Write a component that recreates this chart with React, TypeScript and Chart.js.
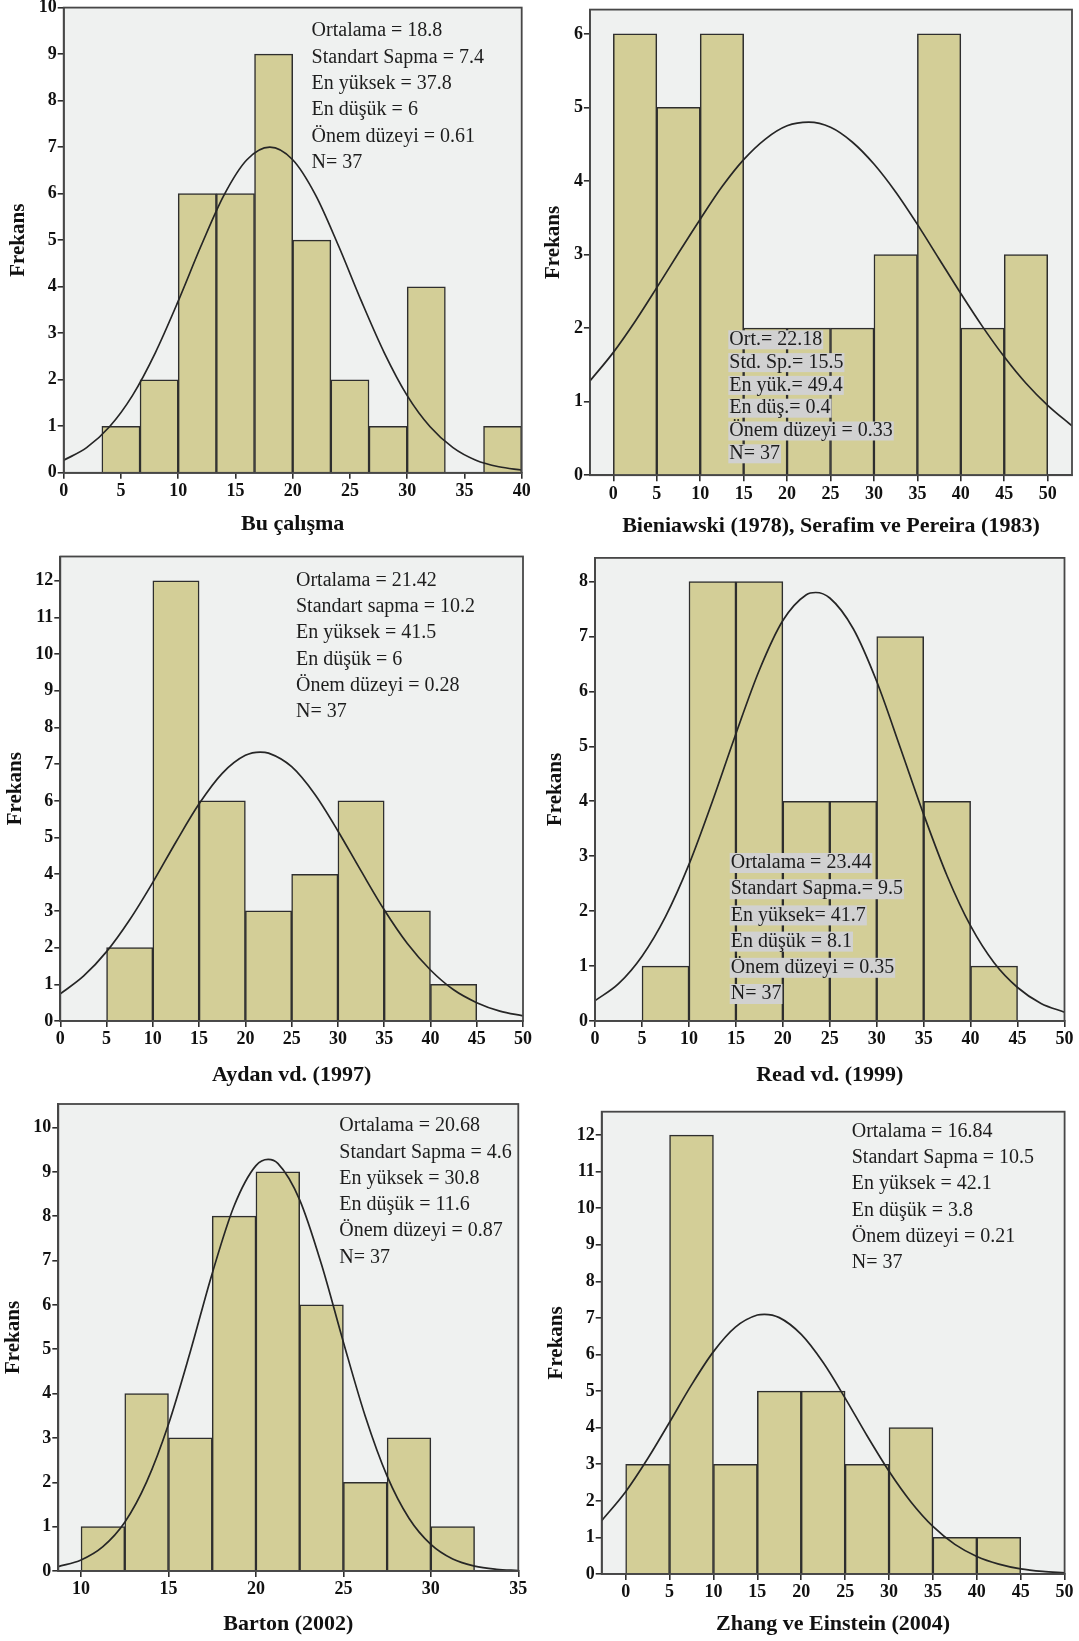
import React, { useEffect, useRef } from "react";
import { Chart, registerables } from "chart.js";

Chart.register(...registerables);

const SERIF = '"Liberation Serif", "Times New Roman", Times, serif';

// ---------- Panel 1: Bu çalışma ----------
const p1Title = "Bu çalışma";
const p1BinWidth = 3.3333;
const p1BinStarts = [3.3333, 6.6667, 10, 13.3333, 16.6667, 20, 23.3333, 26.6667, 30, 33.3333, 36.6667];
const p1Counts = [1, 2, 6, 6, 9, 5, 2, 1, 4, 0, 1];
const p1CurveX = [0, 2, 4, 6, 8, 10, 12, 14, 16, 18, 20, 22, 24, 26, 28, 30, 32, 34, 36, 38, 40];
const p1CurveY = [0.27, 0.54, 0.99, 1.66, 2.58, 3.69, 4.88, 5.97, 6.73, 7.0, 6.73, 5.97, 4.88, 3.69, 2.58, 1.66, 0.99, 0.54, 0.27, 0.13, 0.06];
const p1XTicks = [0, 5, 10, 15, 20, 25, 30, 35, 40];
const p1YTicks = [0, 1, 2, 3, 4, 5, 6, 7, 8, 9, 10];
const p1Stats = ["Ortalama = 18.8", "Standart Sapma = 7.4", "En yüksek = 37.8", "En düşük = 6", "Önem düzeyi = 0.61", "N= 37"];

// ---------- Panel 2: Bieniawski ----------
const p2Title = "Bieniawski (1978), Serafim ve Pereira (1983)";
const p2BinWidth = 5;
const p2BinStarts = [0, 5, 10, 15, 20, 25, 30, 35, 40, 45];
const p2Counts = [6, 5, 6, 2, 2, 2, 3, 6, 2, 3];
const p2CurveX = [-2.7, 0, 2.5, 5, 7.5, 10, 12.5, 15, 17.5, 20, 22.5, 25, 27.5, 30, 32.5, 35, 37.5, 40, 42.5, 45, 47.5, 50, 52.8];
const p2CurveY = [1.28, 1.67, 2.09, 2.55, 3.02, 3.48, 3.92, 4.29, 4.57, 4.75, 4.8, 4.73, 4.53, 4.23, 3.85, 3.41, 2.94, 2.47, 2.02, 1.61, 1.25, 0.95, 0.67];
const p2XTicks = [0, 5, 10, 15, 20, 25, 30, 35, 40, 45, 50];
const p2YTicks = [0, 1, 2, 3, 4, 5, 6];
const p2Stats = ["Ort.= 22.18", "Std. Sp.= 15.5", "En yük.= 49.4", "En düş.= 0.4", "Önem düzeyi = 0.33", "N= 37"];

// ---------- Panel 3: Aydan vd. (1997) ----------
const p3Title = "Aydan vd. (1997)";
const p3BinWidth = 5;
const p3BinStarts = [5, 10, 15, 20, 25, 30, 35, 40];
const p3Counts = [2, 12, 6, 3, 4, 6, 3, 1];
const p3CurveX = [0, 2.5, 5, 7.5, 10, 12.5, 15, 17.5, 20, 21.6, 22.5, 25, 27.5, 30, 32.5, 35, 37.5, 40, 42.5, 45, 47.5, 50];
const p3CurveY = [0.74, 1.22, 1.89, 2.76, 3.78, 4.88, 5.92, 6.75, 7.24, 7.33, 7.3, 6.93, 6.18, 5.18, 4.09, 3.03, 2.11, 1.39, 0.85, 0.5, 0.27, 0.14];
const p3XTicks = [0, 5, 10, 15, 20, 25, 30, 35, 40, 45, 50];
const p3YTicks = [0, 1, 2, 3, 4, 5, 6, 7, 8, 9, 10, 11, 12];
const p3Stats = ["Ortalama = 21.42", "Standart sapma = 10.2", "En yüksek = 41.5", "En düşük = 6", "Önem düzeyi = 0.28", "N= 37"];

// ---------- Panel 4: Read vd. (1999) ----------
const p4Title = "Read vd. (1999)";
const p4BinWidth = 5;
const p4BinStarts = [5, 10, 15, 20, 25, 30, 35, 40];
const p4Counts = [1, 8, 8, 4, 4, 7, 4, 1];
const p4CurveX = [0, 2.5, 5, 7.5, 10, 12.5, 15, 17.5, 20, 22.5, 23.5, 25, 27.5, 30, 32.5, 35, 37.5, 40, 42.5, 45, 47.5, 50];
const p4CurveY = [0.37, 0.68, 1.18, 1.9, 2.85, 4.0, 5.23, 6.39, 7.29, 7.76, 7.8, 7.7, 7.14, 6.18, 4.98, 3.76, 2.64, 1.73, 1.06, 0.61, 0.32, 0.16];
const p4XTicks = [0, 5, 10, 15, 20, 25, 30, 35, 40, 45, 50];
const p4YTicks = [0, 1, 2, 3, 4, 5, 6, 7, 8];
const p4Stats = ["Ortalama = 23.44", "Standart Sapma.= 9.5", "En yüksek= 41.7", "En düşük = 8.1", "Önem düzeyi = 0.35", "N= 37"];

// ---------- Panel 5: Barton (2002) ----------
const p5Title = "Barton (2002)";
const p5BinWidth = 2.5;
const p5BinStarts = [10, 12.5, 15, 17.5, 20, 22.5, 25, 27.5, 30];
const p5Counts = [1, 4, 3, 8, 9, 6, 2, 3, 1];
const p5CurveX = [8.7, 10, 11.25, 12.5, 13.75, 15, 16.25, 17.5, 18.75, 20, 20.7, 21.25, 22.5, 23.75, 25, 26.25, 27.5, 28.75, 30, 31.25, 32.5, 33.75, 35];
const p5CurveY = [0.1, 0.25, 0.55, 1.1, 2.01, 3.31, 4.95, 6.71, 8.23, 9.14, 9.28, 9.19, 8.37, 6.91, 5.16, 3.49, 2.14, 1.19, 0.6, 0.27, 0.11, 0.04, 0.01];
const p5XTicks = [10, 15, 20, 25, 30, 35];
const p5YTicks = [0, 1, 2, 3, 4, 5, 6, 7, 8, 9, 10];
const p5Stats = ["Ortalama = 20.68", "Standart Sapma = 4.6", "En yüksek = 30.8", "En düşük = 11.6", "Önem düzeyi = 0.87", "N= 37"];

// ---------- Panel 6: Zhang ve Einstein (2004) ----------
const p6Title = "Zhang ve Einstein (2004)";
const p6BinWidth = 5;
const p6BinStarts = [0, 5, 10, 15, 20, 25, 30, 35, 40];
const p6Counts = [3, 12, 3, 5, 5, 3, 4, 1, 1];
const p6CurveX = [-2.73, 0, 2.5, 5, 7.5, 10, 12.5, 15, 15.8, 17.5, 20, 22.5, 25, 27.5, 30, 32.5, 35, 37.5, 40, 42.5, 45, 47.5, 50];
const p6CurveY = [1.46, 2.25, 3.15, 4.15, 5.17, 6.08, 6.75, 7.08, 7.1, 7.01, 6.55, 5.78, 4.81, 3.78, 2.81, 1.97, 1.3, 0.81, 0.48, 0.27, 0.14, 0.07, 0.03];
const p6XTicks = [0, 5, 10, 15, 20, 25, 30, 35, 40, 45, 50];
const p6YTicks = [0, 1, 2, 3, 4, 5, 6, 7, 8, 9, 10, 11, 12];
const p6Stats = ["Ortalama = 16.84", "Standart Sapma = 10.5", "En yüksek = 42.1", "En düşük = 3.8", "Önem düzeyi = 0.21", "N= 37"];

const yAxisTitle = "Frekans";

type PanelSpec = {
  title: string;
  binWidth: number;
  binStarts: number[];
  counts: number[];
  curveX: number[];
  curveY: number[];
  xTicks: number[];
  yTicks: number[];
  stats: string[];
  frame: { L: number; T: number; R: number; B: number };
  xMin: number;
  xMax: number;
  yMax: number;
  yTitleX: number;
  xTitleY: number;
  statX: number;
  statY: number;
  statDy: number;
  statBg: boolean;
  statBgHalf: number;
};

const panels: PanelSpec[] = [
  {
    title: p1Title, binWidth: p1BinWidth, binStarts: p1BinStarts, counts: p1Counts, curveX: p1CurveX, curveY: p1CurveY,
    xTicks: p1XTicks, yTicks: p1YTicks, stats: p1Stats,
    frame: { L: 63.7, T: 7.6, R: 521.7, B: 472.8 }, xMin: 0, xMax: 40, yMax: 10,
    yTitleX: 19, xTitleY: 524, statX: 311.6, statY: 31, statDy: 26.4, statBg: false, statBgHalf: 0,
  },
  {
    title: p2Title, binWidth: p2BinWidth, binStarts: p2BinStarts, counts: p2Counts, curveX: p2CurveX, curveY: p2CurveY,
    xTicks: p2XTicks, yTicks: p2YTicks, stats: p2Stats,
    frame: { L: 589.9, T: 9.6, R: 1072, B: 475.2 }, xMin: -2.7, xMax: 52.8, yMax: 6.33,
    yTitleX: 553.8, xTitleY: 526, statX: 729.3, statY: 339.8, statDy: 22.8, statBg: true, statBgHalf: 9.5,
  },
  {
    title: p3Title, binWidth: p3BinWidth, binStarts: p3BinStarts, counts: p3Counts, curveX: p3CurveX, curveY: p3CurveY,
    xTicks: p3XTicks, yTicks: p3YTicks, stats: p3Stats,
    frame: { L: 60.3, T: 556.5, R: 523, B: 1021 }, xMin: 0, xMax: 50, yMax: 12.66,
    yTitleX: 15.5, xTitleY: 1075, statX: 296, statY: 580.6, statDy: 26.3, statBg: false, statBgHalf: 0,
  },
  {
    title: p4Title, binWidth: p4BinWidth, binStarts: p4BinStarts, counts: p4Counts, curveX: p4CurveX, curveY: p4CurveY,
    xTicks: p4XTicks, yTicks: p4YTicks, stats: p4Stats,
    frame: { L: 595.1, T: 557.9, R: 1064.5, B: 1021 }, xMin: 0, xMax: 50, yMax: 8.43,
    yTitleX: 555.5, xTitleY: 1075, statX: 730.7, statY: 863, statDy: 26.2, statBg: true, statBgHalf: 10,
  },
  {
    title: p5Title, binWidth: p5BinWidth, binStarts: p5BinStarts, counts: p5Counts, curveX: p5CurveX, curveY: p5CurveY,
    xTicks: p5XTicks, yTicks: p5YTicks, stats: p5Stats,
    frame: { L: 58.3, T: 1104, R: 518.3, B: 1571 }, xMin: 8.7, xMax: 35, yMax: 10.53,
    yTitleX: 13.8, xTitleY: 1624, statX: 339.3, statY: 1126, statDy: 26.3, statBg: false, statBgHalf: 0,
  },
  {
    title: p6Title, binWidth: p6BinWidth, binStarts: p6BinStarts, counts: p6Counts, curveX: p6CurveX, curveY: p6CurveY,
    xTicks: p6XTicks, yTicks: p6YTicks, stats: p6Stats,
    frame: { L: 601.7, T: 1111.7, R: 1064.6, B: 1574 }, xMin: -2.73, xMax: 50, yMax: 12.64,
    yTitleX: 556.7, xTitleY: 1624, statX: 851.7, statY: 1131.7, statDy: 26.2, statBg: false, statBgHalf: 0,
  },
];

const TICK_FONT = { family: SERIF, size: 18, weight: "bold" as const };
const Y_TITLE_SIZE = 21;
const X_TITLE_SIZE = 22;
const INK = "#111111";

function Panel({ p }: { p: PanelSpec }) {
  const ref = useRef<HTMLCanvasElement | null>(null);
  const cx = Math.floor(p.yTitleX - 16);
  const cy = Math.floor(p.frame.T - 30);
  const cw = Math.ceil(p.frame.R + 30 - cx);
  const ch = Math.ceil(p.xTitleY + 20 - cy);

  useEffect(() => {
    const canvas = ref.current;
    if (!canvas) return;
    const yAxisW = p.frame.L - cx;
    const xAxisH = cy + ch - p.frame.B;
    const padTop = p.frame.T - cy;
    const padRight = cx + cw - p.frame.R;
    const yTitlePad = p.yTitleX - cx - (Y_TITLE_SIZE * 1.2) / 2;
    const xTitlePad = cy + ch - p.xTitleY - (X_TITLE_SIZE * 1.2) / 2;

    const decor = {
      id: "decor",
      beforeDraw(chart: any) {
        const { ctx, chartArea: a } = chart;
        ctx.save();
        ctx.fillStyle = "#EFF1F0";
        ctx.fillRect(a.left, a.top, a.right - a.left, a.bottom - a.top);
        ctx.restore();
      },
      afterDatasetsDraw(chart: any) {
        const { ctx, chartArea: a } = chart;
        ctx.save();
        ctx.font = `20px ${SERIF}`;
        ctx.textBaseline = "middle";
        ctx.textAlign = "left";
        p.stats.forEach((line, i) => {
          const x = p.statX - cx;
          const y = p.statY + i * p.statDy - cy;
          if (p.statBg) {
            const w = ctx.measureText(line).width;
            ctx.fillStyle = "#D1D1D1";
            ctx.fillRect(x - 1, y - p.statBgHalf, w + 2, p.statBgHalf * 2);
          }
          ctx.fillStyle = "#1d1d1d";
          ctx.fillText(line, x, y);
        });
        ctx.strokeStyle = "#474747";
        ctx.lineWidth = 1.8;
        ctx.strokeRect(a.left, a.top, a.right - a.left, a.bottom - a.top);
        ctx.restore();
      },
    };

    const chart = new Chart(canvas, {
      type: "bar",
      data: {
        datasets: [
          {
            type: "line",
            data: p.curveX.map((x, i) => ({ x, y: p.curveY[i] })),
            borderColor: "#262626",
            borderWidth: 1.7,
            pointRadius: 0,
            cubicInterpolationMode: "monotone",
            fill: false,
            order: 0,
          } as any,
          {
            type: "bar",
            data: p.binStarts.map((s, i) => ({ x: s + p.binWidth / 2, y: p.counts[i] })),
            backgroundColor: "#D3CE97",
            borderColor: "#2e2e2e",
            borderWidth: 1.5,
            borderSkipped: "start",
            barPercentage: 1,
            categoryPercentage: 1,
            order: 1,
          } as any,
        ],
      },
      options: {
        responsive: false,
        animation: false,
        devicePixelRatio: 1,
        events: [],
        layout: { padding: { left: 0, top: padTop, right: padRight, bottom: 0 } },
        plugins: { legend: { display: false }, tooltip: { enabled: false } },
        scales: {
          x: {
            type: "linear",
            min: p.xMin,
            max: p.xMax,
            offset: false,
            afterBuildTicks: (s: any) => {
              s.ticks = p.xTicks.map((v) => ({ value: v }));
            },
            afterFit: (s: any) => {
              s.height = xAxisH;
            },
            grid: { offset: false, drawOnChartArea: false, drawTicks: true, tickLength: 6, color: "#2e2e2e", lineWidth: 1.6 },
            border: { display: true, color: "#474747", width: 1.8 },
            ticks: { font: TICK_FONT, color: INK, padding: 2, maxRotation: 0, autoSkip: false },
            title: {
              display: true,
              text: p.title,
              font: { family: SERIF, size: X_TITLE_SIZE, weight: "bold" },
              color: INK,
              padding: { top: 0, bottom: xTitlePad },
            },
          } as any,
          y: {
            type: "linear",
            min: 0,
            max: p.yMax,
            afterBuildTicks: (s: any) => {
              s.ticks = p.yTicks.map((v) => ({ value: v }));
            },
            afterFit: (s: any) => {
              s.width = yAxisW;
            },
            grid: { drawOnChartArea: false, drawTicks: true, tickLength: 6, color: "#2e2e2e", lineWidth: 1.6 },
            border: { display: true, color: "#474747", width: 1.8 },
            ticks: { font: TICK_FONT, color: INK, padding: 1, autoSkip: false },
            title: {
              display: true,
              text: yAxisTitle,
              font: { family: SERIF, size: Y_TITLE_SIZE, weight: "bold" },
              color: INK,
              padding: { top: yTitlePad, bottom: 0 },
            },
          } as any,
        },
      },
      plugins: [decor],
    });
    return () => chart.destroy();
  }, []);

  return (
    <canvas
      ref={ref}
      width={cw}
      height={ch}
      style={{ position: "absolute", left: cx, top: cy, width: cw, height: ch }}
    />
  );
}

export default function App() {
  return (
    <div
      style={{
        position: "absolute",
        left: 0,
        top: 0,
        width: 1079,
        height: 1641,
        overflow: "hidden",
        background: "#ffffff",
      }}
    >
      {panels.map((p, i) => (
        <Panel key={i} p={p} />
      ))}
    </div>
  );
}
